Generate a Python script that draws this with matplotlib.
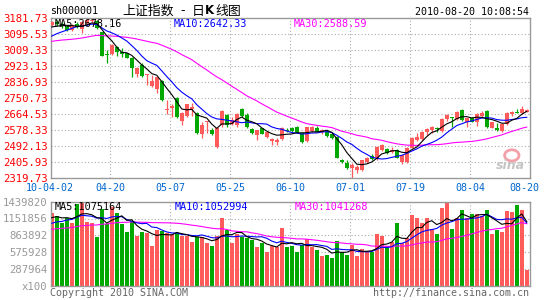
import matplotlib
matplotlib.use("Agg")
import matplotlib.pyplot as plt
import matplotlib.transforms as mtransforms
from matplotlib.patches import Ellipse
import pandas as pd

# daily bars of sh000001, 2010-04-02 .. 2010-08-20
opens = [3145, 3162, 3150, 3140, 3118, 3150, 3125, 3158, 3168, 3165,
         3106, 2985, 2987, 3027, 2999, 2992, 2969, 2879, 2929, 2876,
         2815, 2800, 2843, 2687, 2697, 2752, 2627, 2655, 2691, 2671,
         2558, 2619, 2578, 2488, 2605, 2659, 2608, 2605, 2690, 2659,
         2583, 2551, 2587, 2542, 2518, 2514, 2527, 2578, 2587, 2595,
         2560, 2518, 2572, 2590, 2565, 2569, 2556, 2542, 2416, 2398,
         2370, 2361, 2361, 2406, 2439, 2424, 2469, 2475, 2460, 2469,
         2406, 2406, 2480, 2523, 2529, 2569, 2578, 2590, 2572, 2637,
         2648, 2637, 2686, 2623, 2641, 2623, 2655, 2681, 2590, 2590,
         2574, 2608, 2662, 2677, 2668, 2677]
highs = [3165, 3170, 3160, 3148, 3150, 3162, 3165, 3175, 3181.73, 3170,
         3110, 3010, 3041, 3032, 3019, 2995, 2974, 2920, 2938, 2880,
         2875, 2866, 2848, 2740, 2718, 2758, 2677, 2717, 2722, 2677,
         2623, 2627, 2587, 2587, 2686, 2664, 2650, 2671, 2695, 2671,
         2587, 2578, 2591, 2569, 2532, 2536, 2593, 2587, 2596, 2600,
         2569, 2596, 2600, 2600, 2583, 2578, 2560, 2547, 2421, 2416,
         2398, 2388, 2417, 2433, 2446, 2491, 2500, 2478, 2484, 2473,
         2445, 2487, 2540, 2559, 2573, 2587, 2599, 2596, 2641, 2666,
         2648, 2680, 2690, 2645, 2650, 2668, 2681, 2685, 2623, 2614,
         2614, 2673, 2681, 2691, 2709, 2691]
lows = [3138, 3140, 3130, 3115, 3112, 3130, 3100, 3150, 3155, 3125,
        2978, 2938, 2983, 2980, 2974, 2965, 2866, 2866, 2866, 2821,
        2812, 2776, 2735, 2662, 2650, 2645, 2605, 2650, 2655, 2555,
        2533, 2560, 2550, 2478, 2596, 2596, 2605, 2596, 2650, 2590,
        2556, 2524, 2555, 2533, 2497, 2497, 2523, 2569, 2569, 2560,
        2510, 2515, 2569, 2565, 2556, 2542, 2529, 2424, 2398, 2366,
        2319.73, 2343, 2356, 2397, 2415, 2415, 2464, 2446, 2451, 2424,
        2392, 2401, 2478, 2518, 2524, 2551, 2560, 2569, 2569, 2627,
        2596, 2632, 2627, 2596, 2619, 2601, 2650, 2590, 2587, 2572,
        2569, 2605, 2655, 2668, 2664, 2673]
closes = [3160, 3150, 3140, 3120, 3145, 3135, 3160, 3170, 3173, 3130,
          2980, 2982, 3037, 3001, 2988, 2969, 2911, 2911, 2871, 2879,
          2842, 2866, 2740, 2690, 2708, 2650, 2668, 2717, 2704, 2560,
          2605, 2625, 2555, 2587, 2681, 2605, 2632, 2666, 2655, 2596,
          2563, 2578, 2555, 2565, 2529, 2521, 2587, 2572, 2572, 2565,
          2515, 2592, 2596, 2569, 2578, 2547, 2533, 2428, 2403, 2370,
          2388, 2377, 2413, 2424, 2421, 2487, 2497, 2451, 2469, 2428,
          2442, 2482, 2535, 2541, 2569, 2583, 2594, 2581, 2637, 2659,
          2641, 2677, 2632, 2641, 2623, 2662, 2672, 2596, 2619, 2578,
          2608, 2670, 2677, 2668, 2691, 2686]
volumes = [1240000, 1194000, 1069000, 1166000, 1080000, 1394000, 1439820, 1097000, 1069000, 840000,
           1309000, 1051000, 1343000, 1240000, 1051000, 914000, 1108000, 857000, 914000, 897000,
           686000, 954000, 937000, 897000, 880000, 897000, 851000, 851000, 754000, 840000,
           840000, 737000, 686000, 851000, 1154000, 954000, 726000, 880000, 840000, 811000,
           783000, 669000, 726000, 583000, 680000, 660000, 994000, 669000, 686000, 583000,
           697000, 800000, 669000, 611000, 514000, 526000, 469000, 766000, 583000, 526000,
           697000, 514000, 629000, 583000, 571000, 886000, 851000, 680000, 743000, 1069000,
           726000, 823000, 1211000, 1154000, 1069000, 1166000, 971000, 880000, 1326000, 1411000,
           971000, 1154000, 1297000, 1154000, 1223000, 1223000, 1200000, 1297000, 886000, 954000,
           926000, 1280000, 1257000, 1383000, 1303000, 269000]

# the 29 sessions before 04-02, only used for the moving averages
prev_closes = [3050, 3045, 3060, 3070, 3055, 3040, 3030, 3010, 3000, 3020,
               3035, 3050, 3065, 3060, 3045, 3040, 3055, 3060, 3050, 3030,
               3020, 3040, 3030, 3045, 3045, 3128, 3128, 3110, 3148]
prev_volumes = [880000, 910000, 950000, 870000, 900000, 960000, 1000000, 850000, 820000, 900000,
                940000, 980000, 930000, 890000, 870000, 920000, 960000, 1000000, 910000, 860000,
                950000, 1000000, 920000, 980000, 1020000, 1100000, 1180000, 1150000, 1160000]

tick_days = [0, 11, 23, 35, 47, 59, 71, 83, 95]
tick_labels = ["10-04-02", "04-20", "05-07", "05-25", "06-10", "07-01", "07-19", "08-04", "08-20"]

price_ticks = [2319.73, 2405.93, 2492.13, 2578.33, 2664.53, 2750.73, 2836.93, 2923.13, 3009.33, 3095.53, 3181.73]
vol_ticks = [0, 287964, 575928, 863892, 1151856, 1439820]
vol_labels = ["x100", "287964", "575928", "863892", "1151856", "1439820"]

RED = "#ff5b5b"
GREEN = "#00a800"
GRID = "#aaaaaa"
FRAME = "#999999"
MONO = "DejaVu Sans Mono"
CJK = ["Noto Sans CJK SC", "DejaVu Sans"]

n = len(closes)
x = list(range(n))
up = [c >= o for o, c in zip(opens, closes)]
colors = [RED if u else GREEN for u in up]

all_c = pd.Series(prev_closes + closes)
all_v = pd.Series(prev_volumes + volumes)
k = len(prev_closes)
ma = {m: all_c.rolling(m).mean().iloc[k:].values for m in (5, 10, 30)}
vma = {m: all_v.rolling(m).mean().iloc[k:].values for m in (5, 10, 30)}

fig = plt.figure(figsize=(5.45, 3.0), dpi=100)
fig.patch.set_facecolor("white")

X0, X1 = 51, 530
W, H = 545, 300
ax = fig.add_axes([X0 / W, 1 - 177.7 / H, (X1 - X0) / W, (177.7 - 18.3) / H])
axv = fig.add_axes([X0 / W, 1 - 285.7 / H, (X1 - X0) / W, (285.7 - 201.7) / H])

xmin, xmax = -0.15, 95.65
grid_x = [d + 0.65 for d in tick_days[1:-1]]

for a in (ax, axv):
    a.set_xlim(xmin, xmax)
    a.set_xticks([])
    for s in a.spines.values():
        s.set_color(FRAME)
        s.set_linewidth(1.0)
    a.tick_params(axis="y", length=0, pad=2.5)
    for gx in grid_x:
        a.axvline(gx, color=GRID, lw=0.8, ls=(0, (1, 2)), zorder=0)

# price panel
ax.set_ylim(price_ticks[0], price_ticks[-1])
ax.set_yticks(price_ticks)
ax.set_yticklabels(["%.2f" % p for p in price_ticks], color="red", family=MONO, fontsize=7.7)
for p in price_ticks[1:-1]:
    ax.axhline(p, color=GRID, lw=0.8, ls=(0, (1, 2)), zorder=0)

body_bot = [min(o, c) for o, c in zip(opens, closes)]
body_h = [max(abs(c - o), 4) for o, c in zip(opens, closes)]
ax.vlines(x, lows, highs, colors=colors, lw=0.9, zorder=2)
ax.bar(x, body_h, bottom=body_bot, width=0.8, color=colors, zorder=3)

ax.plot(x, ma[30], color="#ff00ff", lw=0.8, zorder=4)
ax.plot(x, ma[10], color="#0000ff", lw=0.8, zorder=4)
ax.plot(x, ma[5], color="black", lw=0.8, zorder=4)

ax.text(0.008, 0.965, "MA5:2678.16", transform=ax.transAxes, family=MONO, fontsize=7.3,
        color="black", va="center", zorder=6)
ax.text(0.256, 0.965, "MA10:2642.33", transform=ax.transAxes, family=MONO, fontsize=7.3,
        color="#0000ff", va="center", zorder=6)
ax.text(0.507, 0.965, "MA30:2588.59", transform=ax.transAxes, family=MONO, fontsize=7.3,
        color="#ff00ff", va="center", zorder=6)

# x labels under price panel
trans = mtransforms.blended_transform_factory(ax.transData, ax.transAxes)
label_x = [d + 0.65 for d in tick_days]
label_x[0] = -0.35
label_x[-1] = 94.45
for lx, lab in zip(label_x, tick_labels):
    ax.text(lx, -0.066, lab, transform=trans, family=MONO, fontsize=7.2, color="#0066cc",
            ha="center", va="center", clip_on=False)

# sina watermark
ax.add_patch(Ellipse((0.962, 0.14), 0.03, 0.07, transform=ax.transAxes, fill=False,
                     ec="#f4a0a8", lw=2.0, zorder=1))
ax.text(0.958, 0.075, "sina", transform=ax.transAxes, fontsize=9, fontweight="bold",
        fontstyle="italic", color="#c4c4c4", ha="center", va="center", zorder=1)

# volume panel
axv.set_ylim(0, vol_ticks[-1])
axv.set_yticks(vol_ticks)
axv.set_yticklabels(vol_labels, color="#999999", family=MONO, fontsize=7.7)
for v in vol_ticks[1:-1]:
    axv.axhline(v, color=GRID, lw=0.8, ls=(0, (1, 2)), zorder=0)
axv.bar(x, volumes, width=0.8, color=colors, zorder=2)
axv.plot(x, vma[30], color="#ff00ff", lw=0.8, zorder=4)
axv.plot(x, vma[10], color="#0000ff", lw=0.8, zorder=4)
axv.plot(x, vma[5], color="black", lw=0.8, zorder=4)

axv.text(0.008, 0.94, "MA5:1075164", transform=axv.transAxes, family=MONO, fontsize=7.3,
         color="black", va="center", zorder=6)
axv.text(0.258, 0.94, "MA10:1052994", transform=axv.transAxes, family=MONO, fontsize=7.3,
         color="#0000ff", va="center", zorder=6)
axv.text(0.508, 0.94, "MA30:1041268", transform=axv.transAxes, family=MONO, fontsize=7.3,
         color="#ff00ff", va="center", zorder=6)

# header and footer
ty = 1 - 11 / H
fig.text(50 / W, ty, "sh000001", family=MONO, fontsize=7.2, color="black", va="center")
fig.text(122 / W, ty, "上证指数", family=CJK, fontsize=9.3, color="black", va="center")
fig.text(180 / W, ty, "-", family=CJK, fontsize=9.3, color="black", va="center")
fig.text(192 / W, ty, "日", family=CJK, fontsize=9.3, color="black", va="center")
fig.text(205 / W, ty, "K", family="DejaVu Sans", fontweight="bold", fontsize=8.5,
         color="black", va="center")
fig.text(215 / W, ty, "线图", family=CJK, fontsize=9.3, color="black", va="center")
fig.text(529 / W, 1 - 12 / H, "2010-08-20 10:08:54", family=MONO, fontsize=7.2, color="black",
         ha="right", va="center")
fig.text(50 / W, 1 - 292.5 / H, "Copyright 2010 SINA.COM", family=MONO, fontsize=7.2,
         color="#666666", va="center")
fig.text(529 / W, 1 - 292.5 / H, "http://finance.sina.com.cn", family=MONO, fontsize=7.2,
         color="#666666", ha="right", va="center")

fig.savefig("out.png", dpi=100, facecolor="white")
